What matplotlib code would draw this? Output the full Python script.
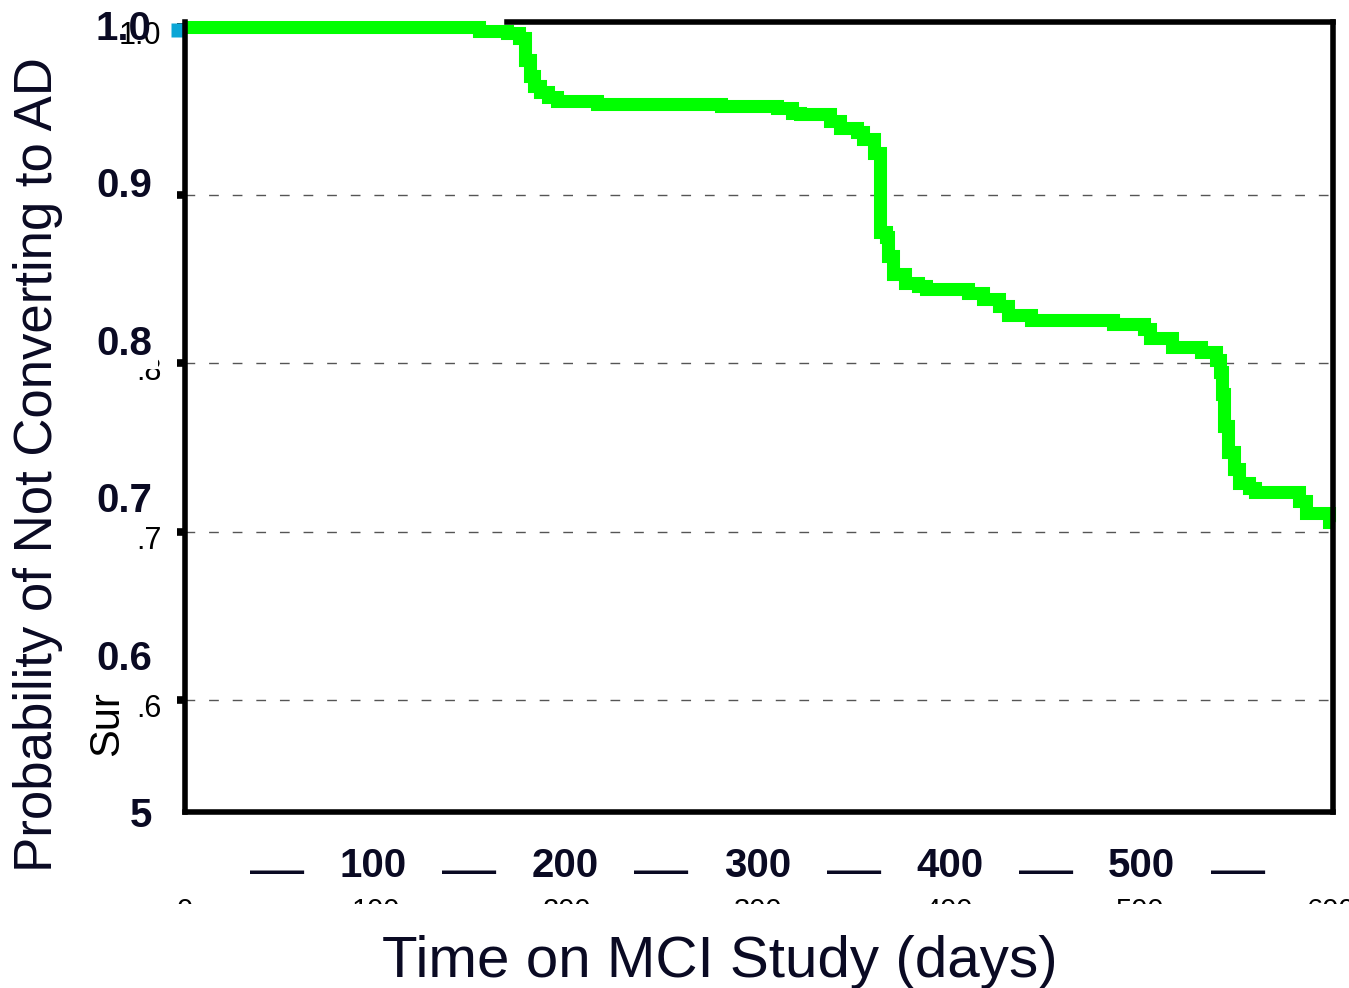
import matplotlib
matplotlib.use("Agg")
import matplotlib.pyplot as plt
from matplotlib.patches import Rectangle
from matplotlib.transforms import ScaledTranslation

plt.rcParams["font.family"] = ["Liberation Sans", "DejaVu Sans"]

# Kaplan-Meier style curve
DAYS = [0, 154, 169, 175, 178, 181, 183, 186, 190, 195, 216, 281, 310, 318,
        322, 338, 343, 352, 355, 361, 364, 367, 368, 371, 377, 384, 388, 410,
        418, 426, 431, 443, 486, 502, 505, 517, 532, 540, 542, 543, 544, 546,
        549, 552, 557, 560, 583, 587, 599, 600]
SURVIVAL = [1.000, 0.9976, 0.996, 0.993, 0.980, 0.971, 0.965, 0.961, 0.958,
            0.956, 0.954, 0.953, 0.952, 0.949, 0.948, 0.944, 0.940, 0.9376,
            0.933, 0.925, 0.878, 0.875, 0.864, 0.853, 0.848, 0.846, 0.844,
            0.842, 0.838, 0.834, 0.829, 0.826, 0.8236, 0.8206, 0.815, 0.810,
            0.8069, 0.802, 0.795, 0.782, 0.763, 0.7475, 0.737, 0.729, 0.726,
            0.7237, 0.718, 0.711, 0.706, 0.706]

# original (small) axis labels
SMALL_YTICKS = [0.6, 0.7, 0.8, 0.9, 1.0]
SMALL_YLABEL_VALUES = [1.0, 0.8, 0.7, 0.6]
SMALL_YLABELS = ["1.0", ".8", ".7", ".6"]
SMALL_XTICKS = [0, 100, 200, 300, 400, 500, 600]
SMALL_XLABELS = ["0", "100", "200", "300", "400", "500", "600"]
EDGE_XTICKS = [0, 600]
TOP_BORDER_START = 169

# overlaid (bold) axis labels
BOLD_YTICKS = [0.5, 0.6, 0.7, 0.8, 0.9, 1.0]
BOLD_YLABELS = ["5", "0.6", "0.7", "0.8", "0.9", "1.0"]
BOLD_XTICKS = [50, 100, 150, 200, 250, 300, 350, 400, 450, 500, 550]
BOLD_XLABELS = ["\u2014", "100", "\u2014", "200", "\u2014", "300",
                "\u2014", "400", "\u2014", "500", "\u2014"]

TEXT_COLOR = "#0a0a23"
W, H = 1349, 988

fig = plt.figure(figsize=(W / 100, H / 100), dpi=100)

# main plot
ax = fig.add_axes([184.5 / W, (H - 812) / H, (1333 - 184.5) / W, 790 / H])
ax.set_xlim(0, 601)
ax.set_ylim(0.5335, 1.0028)

ax.plot(DAYS, SURVIVAL, drawstyle="steps-post", color="#00ff00", lw=9.4,
        solid_capstyle="butt", solid_joinstyle="miter", clip_on=False, zorder=2.2)

offset = ScaledTranslation(-4.7 / 72, -2.5 / 72, fig.dpi_scale_trans)
ax.plot([DAYS[0]], [SURVIVAL[0]], "s", ms=9.4, color="#0aa6d6", mec="none",
        clip_on=False, zorder=2, transform=ax.transData + offset)

for side in ["left", "right", "bottom", "top"]:
    ax.spines[side].set_linewidth(4)
    ax.spines[side].set_color("black")
ax.spines["top"].set_bounds(TOP_BORDER_START, 601)

ax.set_yticks(SMALL_YTICKS)
ax.set_yticklabels([])
ax.tick_params(axis="y", length=6, width=5.5, direction="out", color="black")
ax.yaxis.grid(True, color="#555555", lw=1, linestyle=(0, (7, 10)))
ax.yaxis.get_gridlines()[-1].set_visible(False)

ax.set_xticks(SMALL_XTICKS)
ax.set_xticklabels(SMALL_XLABELS)
ax.tick_params(axis="x", which="major", length=0, pad=61, labelsize=21)
ax.set_xticks(EDGE_XTICKS, minor=True)
ax.tick_params(axis="x", which="minor", length=9, width=1, color="black")

for val, lbl in zip(SMALL_YLABEL_VALUES, SMALL_YLABELS):
    ax.annotate(lbl, xy=(0, val), xycoords=("axes fraction", "data"),
                xytext=(-16.5, -6.5), textcoords="offset points",
                ha="right", va="center", fontsize=22, color="black")

fig.text(107 / W, 1 - 756 / H, "Sur", rotation=90, ha="center", va="bottom",
         fontsize=30, color="black")

# overlay axes with the bold labels
ax2 = fig.add_axes([181 / W, (H - 812) / H, (1334 - 181) / W, (812 - 25) / H])
ax2.patch.set_visible(False)
for s in ax2.spines.values():
    s.set_visible(False)
ax2.set_xlim(0, 600)
ax2.set_ylim(0.5, 1.0)
ax2.set_yticks(BOLD_YTICKS)
ax2.set_yticklabels(BOLD_YLABELS)
ax2.set_xticks(BOLD_XTICKS)
ax2.set_xticklabels(BOLD_XLABELS)
ax2.tick_params(axis="y", length=0, pad=21, labelsize=29, labelcolor=TEXT_COLOR)
ax2.tick_params(axis="x", length=0, pad=25, labelsize=29, labelcolor=TEXT_COLOR)
for lbl in ax2.get_yticklabels():
    lbl.set_fontweight("bold")
    if lbl.get_text() != "1.0":
        lbl.set_bbox(dict(boxstyle="square,pad=0.15", fc="white", ec="none"))
for lbl in ax2.get_xticklabels():
    if lbl.get_text() == "\u2014":
        lbl.set_fontsize(39)
    else:
        lbl.set_fontweight("bold")

# white band that hides the lower part of the old x labels
fig.patches.append(Rectangle((0, 0), 1, (H - 904) / H, transform=fig.transFigure,
                             fc="white", ec="none", zorder=1))

fig.text(720 / W, 1 - 977 / H, "Time on MCI Study (days)", ha="center",
         va="baseline", fontsize=42, color=TEXT_COLOR, zorder=2)
fig.text(38 / W, 1 - 465 / H, "Probability of Not Converting to AD", rotation=90,
         ha="center", va="center", fontsize=38, color=TEXT_COLOR, zorder=2)

fig.savefig("out.png", dpi=100)
